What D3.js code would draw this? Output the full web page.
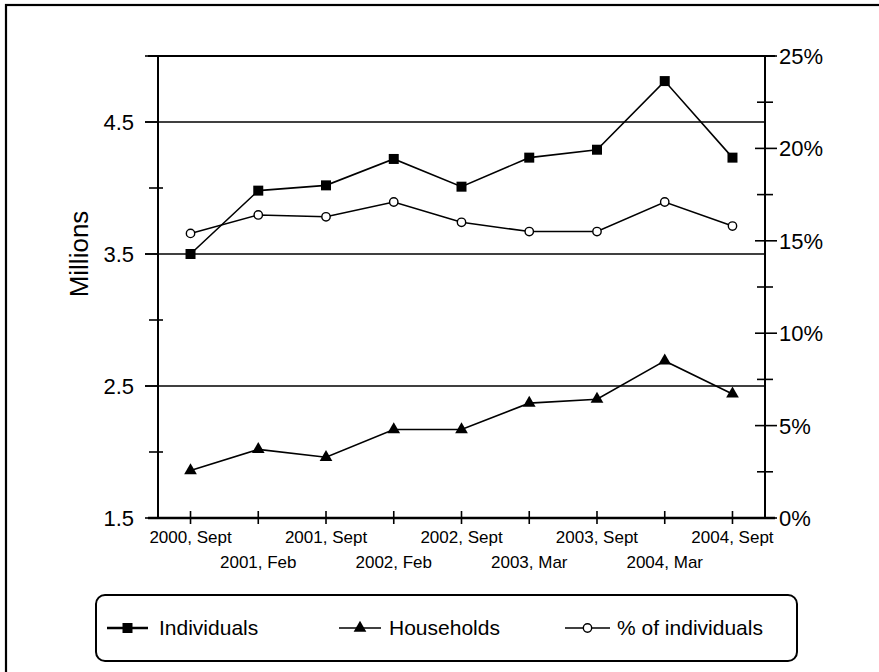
<!DOCTYPE html>
<html>
<head>
<meta charset="utf-8">
<script src="https://cdn.jsdelivr.net/npm/d3@7"></script>
<style>
  html, body { margin: 0; padding: 0; background: #fff; }
  svg { display: block; font-family: "Liberation Sans", Arial, sans-serif; }
</style>
</head>
<body>
<svg id="chart" width="879" height="672"></svg>
<script>
// ---- data ----
const categories = ["2000, Sept", "2001, Feb", "2001, Sept", "2002, Feb", "2002, Sept",
                    "2003, Mar", "2003, Sept", "2004, Mar", "2004, Sept"];
const individuals = [3.50, 3.98, 4.02, 4.22, 4.01, 4.23, 4.29, 4.81, 4.23];   // millions
const households  = [1.86, 2.02, 1.96, 2.17, 2.17, 2.37, 2.40, 2.69, 2.44];   // millions
const pctIndividuals = [15.4, 16.4, 16.3, 17.1, 16.0, 15.5, 15.5, 17.1, 15.8]; // percent
const leftTickLabels = [1.5, 2.5, 3.5, 4.5];
const rightTickLabels = [0, 5, 10, 15, 20, 25];
const legendLabels = ["Individuals", "Households", "% of individuals"];

// ---- layout ----
const svg = d3.select("#chart");
const L = 158, R = 765, T = 56, B = 518;

const x = d3.scalePoint().domain(categories).range([L, R]).padding(0.48);
const yL = d3.scaleLinear().domain([1.5, 5]).range([B, T]);
const yR = d3.scaleLinear().domain([0, 25]).range([B, T]);

// outer frame
svg.append("rect").attr("x", 6).attr("y", 5).attr("width", 900).attr("height", 700)
  .attr("fill", "none").attr("stroke", "#000").attr("stroke-width", 2.2);

// gridlines (labelled left ticks) + top border
[2.5, 3.5, 4.5].forEach(v => {
  svg.append("line").attr("x1", 145).attr("x2", R).attr("y1", yL(v)).attr("y2", yL(v))
    .attr("stroke", "#000").attr("stroke-width", 1.6);
});
svg.append("line").attr("x1", 148).attr("x2", R + 10).attr("y1", T).attr("y2", T)
  .attr("stroke", "#000").attr("stroke-width", 2.2);

// left axis
svg.append("line").attr("x1", L).attr("x2", L).attr("y1", T).attr("y2", B)
  .attr("stroke", "#000").attr("stroke-width", 2);
d3.range(1.5, 5.01, 0.5).forEach(v => {
  const major = leftTickLabels.includes(v) || v === 5;
  svg.append("line").attr("x1", major ? 145 : 149).attr("x2", major ? L : 163)
    .attr("y1", yL(v)).attr("y2", yL(v)).attr("stroke", "#000").attr("stroke-width", 1.6);
});
svg.append("g").selectAll("text").data(leftTickLabels).join("text")
  .attr("x", 134).attr("y", d => yL(d)).attr("dy", "0.36em")
  .attr("text-anchor", "end").attr("font-size", 22).text(d => d.toFixed(1));

// right axis
svg.append("line").attr("x1", R).attr("x2", R).attr("y1", T).attr("y2", B)
  .attr("stroke", "#000").attr("stroke-width", 2);
d3.range(0, 25.01, 2.5).forEach(v => {
  const major = v % 5 === 0;
  svg.append("line").attr("x1", major ? 755 : 757).attr("x2", major ? 777 : 773)
    .attr("y1", yR(v)).attr("y2", yR(v)).attr("stroke", "#000").attr("stroke-width", 1.6);
});
svg.append("g").selectAll("text").data(rightTickLabels).join("text")
  .attr("x", 779).attr("y", d => yR(d)).attr("dy", "0.36em")
  .attr("text-anchor", "start").attr("font-size", 22).text(d => d + "%");

// x axis
svg.append("line").attr("x1", 148).attr("x2", R + 10).attr("y1", B).attr("y2", B)
  .attr("stroke", "#000").attr("stroke-width", 2.6);
categories.forEach(c => {
  svg.append("line").attr("x1", x(c)).attr("x2", x(c)).attr("y1", B - 7).attr("y2", B + 6)
    .attr("stroke", "#000").attr("stroke-width", 1.6);
});
svg.append("g").selectAll("text").data(categories).join("text")
  .attr("x", d => x(d)).attr("y", (d, i) => i % 2 === 0 ? 543 : 568)
  .attr("text-anchor", "middle").attr("font-size", 17).text(d => d);

// y title
svg.append("text").attr("transform", "translate(88,254) rotate(-90)")
  .attr("text-anchor", "middle").attr("font-size", 26).text("Millions");

// ---- series ----
const lineL = d3.line().x((d, i) => x(categories[i])).y(d => yL(d));
const lineR = d3.line().x((d, i) => x(categories[i])).y(d => yR(d));

function drawLine(data, gen) {
  svg.append("path").datum(data).attr("d", gen)
    .attr("fill", "none").attr("stroke", "#000").attr("stroke-width", 1.6);
}
drawLine(households, lineL);
drawLine(pctIndividuals, lineR);
drawLine(individuals, lineL);

const sq = d3.symbol().type(d3.symbolSquare).size(100);
const tri = d3.symbol().type(d3.symbolTriangle).size(70);
const circ = d3.symbol().type(d3.symbolCircle).size(55);

svg.append("g").selectAll("path").data(individuals).join("path")
  .attr("transform", (d, i) => `translate(${x(categories[i])},${yL(d)})`)
  .attr("d", sq).attr("fill", "#000");
svg.append("g").selectAll("path").data(households).join("path")
  .attr("transform", (d, i) => `translate(${x(categories[i])},${yL(d)})`)
  .attr("d", tri).attr("fill", "#000");
svg.append("g").selectAll("path").data(pctIndividuals).join("path")
  .attr("transform", (d, i) => `translate(${x(categories[i])},${yR(d)})`)
  .attr("d", circ).attr("fill", "#fff").attr("stroke", "#000").attr("stroke-width", 1.4);

// ---- legend ----
svg.append("rect").attr("x", 96).attr("y", 595).attr("width", 701).attr("height", 66)
  .attr("rx", 9).attr("fill", "none").attr("stroke", "#000").attr("stroke-width", 2);
const legY = 628;
const legItems = [
  { x0: 107, x1: 148, tx: 159, sym: sq, fill: "#000" },
  { x0: 339, x1: 381, tx: 389, sym: tri, fill: "#000" },
  { x0: 565, x1: 610, tx: 617, sym: circ, fill: "#fff" }
];
legItems.forEach((it, i) => {
  svg.append("line").attr("x1", it.x0).attr("x2", it.x1).attr("y1", legY).attr("y2", legY)
    .attr("stroke", "#000").attr("stroke-width", i === 0 ? 2.6 : 1.6);
  svg.append("path").attr("transform", `translate(${(it.x0 + it.x1) / 2},${legY})`)
    .attr("d", it.sym).attr("fill", it.fill).attr("stroke", "#000").attr("stroke-width", i === 2 ? 1.4 : 0);
  svg.append("text").attr("x", it.tx).attr("y", 635).attr("font-size", 21).text(legendLabels[i]);
});
</script>
</body>
</html>
